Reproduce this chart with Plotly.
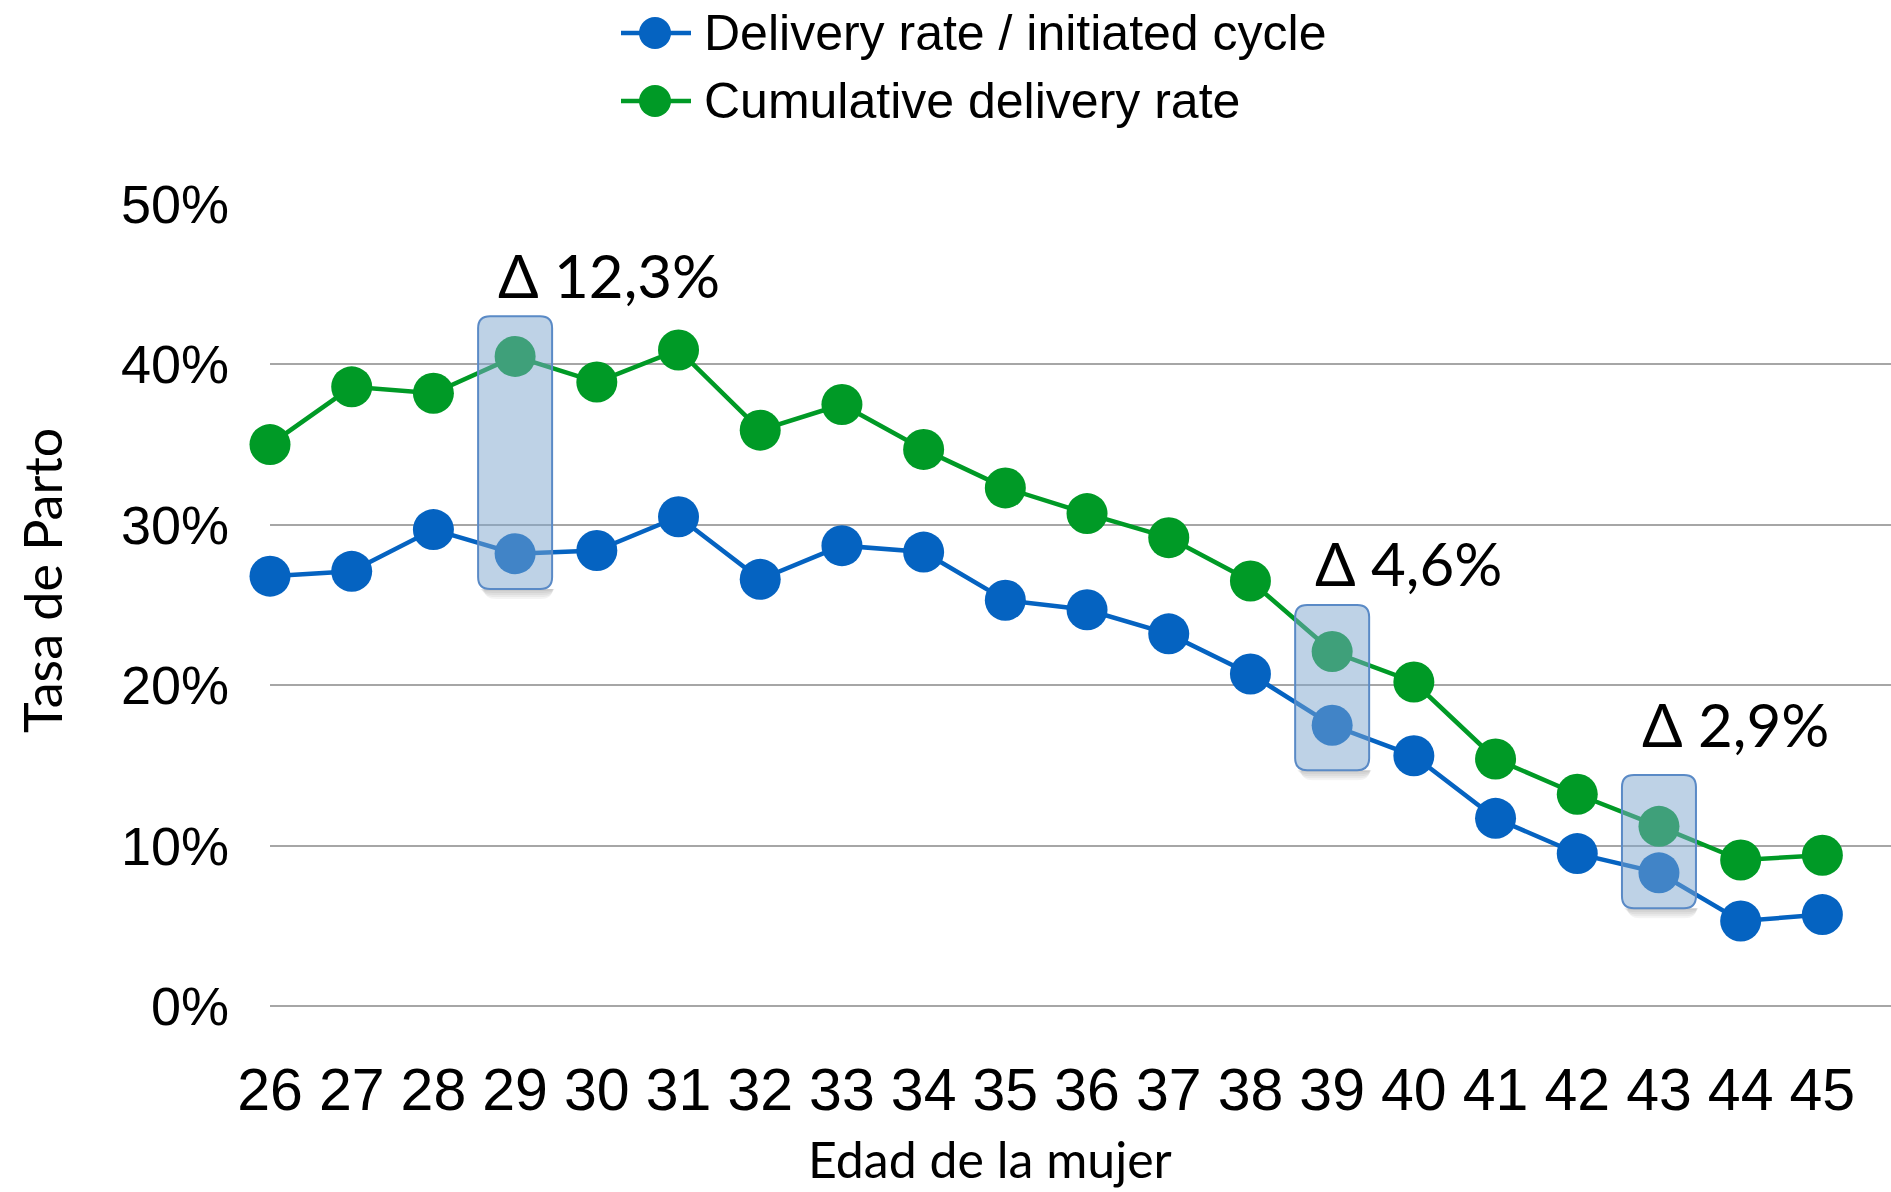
import plotly.graph_objects as go

# ---- data -------------------------------------------------------------
ages = [26, 27, 28, 29, 30, 31, 32, 33, 34, 35, 36, 37, 38, 39, 40, 41, 42, 43, 44, 45]
delivery_rate = [26.8, 27.1, 29.7, 28.2, 28.4, 30.5, 26.6, 28.7, 28.3, 25.3,
                 24.7, 23.2, 20.7, 17.5, 15.6, 11.7, 9.5, 8.3, 5.3, 5.7]
cumulative_rate = [35.0, 38.6, 38.2, 40.5, 38.9, 40.9, 35.9, 37.5, 34.7, 32.3,
                   30.7, 29.2, 26.5, 22.1, 20.2, 15.4, 13.2, 11.2, 9.1, 9.4]
highlight_ages = [29, 39, 43]
series_names = ["Delivery rate / initiated cycle", "Cumulative delivery rate"]
y_ticks = [0, 10, 20, 30, 40, 50]

# ---- styling ----------------------------------------------------------
BLUE = "#0563C1"
GREEN = "#009A26"
GRID = "#A6A6A6"
TICK_FONT = "Liberation Sans, Arial, sans-serif"
TITLE_FONT = "Lato, Calibri, sans-serif"

W, H = 1891, 1192
M_L, M_R, M_T, M_B = 270, 0, 204, 186
X_RANGE = [26, 45.84]
Y_RANGE = [0, 50]
plot_w = W - M_L - M_R
plot_h = H - M_T - M_B
px_x = plot_w / (X_RANGE[1] - X_RANGE[0])   # pixels per x unit
px_y = plot_h / (Y_RANGE[1] - Y_RANGE[0])   # pixels per y unit

# callout box padding (above the green point / below the blue point) in % units
BOX_PAD = {29: (2.5, 2.2), 39: (2.9, 2.8), 43: (3.2, 2.2)}
LABEL_LIFT = {29: 2.6, 39: 2.6, 43: 3.2}
BOX_HALF_W_PX = 37
CORNER_PX = 12


def rounded_rect(x0, x1, y0, y1, r_px):
    rx = r_px / px_x
    ry = r_px / px_y
    return (f"M {x0 + rx},{y1} L {x1 - rx},{y1} Q {x1},{y1} {x1},{y1 - ry} "
            f"L {x1},{y0 + ry} Q {x1},{y0} {x1 - rx},{y0} "
            f"L {x0 + rx},{y0} Q {x0},{y0} {x0},{y0 + ry} "
            f"L {x0},{y1 - ry} Q {x0},{y1} {x0 + rx},{y1} Z")


def bottom_rounded(x0, x1, y0, y1, r_px):
    """Flat top edge, rounded bottom corners."""
    rx = r_px / px_x
    ry = min(r_px / px_y, (y1 - y0))
    return (f"M {x0},{y1} L {x1},{y1} L {x1},{y0 + ry} Q {x1},{y0} {x1 - rx},{y0} "
            f"L {x0 + rx},{y0} Q {x0},{y0} {x0},{y0 + ry} Z")


def px_to_paper_x(px):
    return (px - M_L) / plot_w


def px_to_paper_y(py):
    return (H - M_B - py) / plot_h


fig = go.Figure()

for name, values, color in [(series_names[0], delivery_rate, BLUE),
                            (series_names[1], cumulative_rate, GREEN)]:
    fig.add_trace(go.Scatter(
        x=ages, y=values, name=name, mode="lines+markers",
        line=dict(color=color, width=4.5),
        marker=dict(color=color, size=41),
        cliponaxis=False, showlegend=False,
    ))

shapes = []
annotations = []

# highlighted age callouts: translucent rounded box + difference label
for age in highlight_ages:
    i = ages.index(age)
    top_pad, bot_pad = BOX_PAD[age]
    y_top = cumulative_rate[i] + top_pad
    y_bot = delivery_rate[i] - bot_pad
    hw = BOX_HALF_W_PX / px_x
    # soft shadow below the bottom edge
    for k in range(1, 6):
        depth = k * 2.0
        shapes.append(dict(
            type="path", xref="x", yref="y", layer="above",
            path=bottom_rounded(age - hw + (1 + k) / px_x, age + hw + (3 - k * 0.5) / px_x,
                                y_bot - depth / px_y, y_bot, CORNER_PX),
            fillcolor="rgba(0,0,0,0.045)", line=dict(width=0),
        ))
    shapes.append(dict(
        type="path", xref="x", yref="y", layer="above",
        path=rounded_rect(age - hw, age + hw, y_bot, y_top, CORNER_PX),
        fillcolor="rgba(126,166,206,0.5)",
        line=dict(color="#5A8AC6", width=2),
    ))
    diff = cumulative_rate[i] - delivery_rate[i]
    annotations.append(dict(
        x=age - 0.23, y=y_top + LABEL_LIFT[age], xref="x", yref="y",
        xanchor="left", yanchor="middle", showarrow=False,
        text=f"Δ {diff:.1f}%".replace(".", ","),
        font=dict(family=TITLE_FONT, size=60, color="black"),
    ))

# legend drawn in paper space
legend_rows_py = [33, 101]
for name, color, py in zip(series_names, [BLUE, GREEN], legend_rows_py):
    yp = px_to_paper_y(py)
    shapes.append(dict(
        type="line", xref="paper", yref="paper",
        x0=px_to_paper_x(621), x1=px_to_paper_x(691), y0=yp, y1=yp,
        line=dict(color=color, width=4.5),
    ))
    shapes.append(dict(
        type="circle", xref="paper", yref="paper",
        xsizemode="pixel", ysizemode="pixel",
        xanchor=px_to_paper_x(655), yanchor=yp,
        x0=-16, x1=16, y0=-16, y1=16,
        fillcolor=color, line=dict(width=0),
    ))
    annotations.append(dict(
        x=px_to_paper_x(702), y=yp, xref="paper", yref="paper",
        xanchor="left", yanchor="middle", showarrow=False, text=name,
        font=dict(family=TICK_FONT, size=50, color="black"),
    ))

# axis titles
annotations.append(dict(
    x=px_to_paper_x(990), y=px_to_paper_y(1159), xref="paper", yref="paper",
    xanchor="center", yanchor="middle", showarrow=False, text="Edad de la mujer",
    font=dict(family=TITLE_FONT, size=50, color="black"),
))
annotations.append(dict(
    x=px_to_paper_x(42), y=px_to_paper_y(581), xref="paper", yref="paper",
    xanchor="center", yanchor="middle", showarrow=False, text="Tasa de Parto",
    textangle=-90,
    font=dict(family=TITLE_FONT, size=52, color="black"),
))

fig.update_layout(
    width=W, height=H,
    margin=dict(l=M_L, r=M_R, t=M_T, b=M_B),
    paper_bgcolor="white", plot_bgcolor="white",
    showlegend=False,
    shapes=shapes, annotations=annotations,
    xaxis=dict(
        range=X_RANGE, tickvals=ages, ticktext=[str(a) for a in ages],
        showgrid=False, zeroline=False, showline=False, ticks="",
        tickfont=dict(family=TICK_FONT, size=59, color="black"),
        ticklabelstandoff=44,
    ),
    yaxis=dict(
        range=Y_RANGE, tickvals=y_ticks, ticktext=[f"{t}%" for t in y_ticks],
        showgrid=True, gridcolor=GRID, gridwidth=1.5,
        zeroline=True, zerolinecolor=GRID, zerolinewidth=1.5,
        showline=False, ticks="",
        tickfont=dict(family=TICK_FONT, size=54, color="black"),
        ticklabelstandoff=40,
    ),
)

fig.write_html("out.html")
